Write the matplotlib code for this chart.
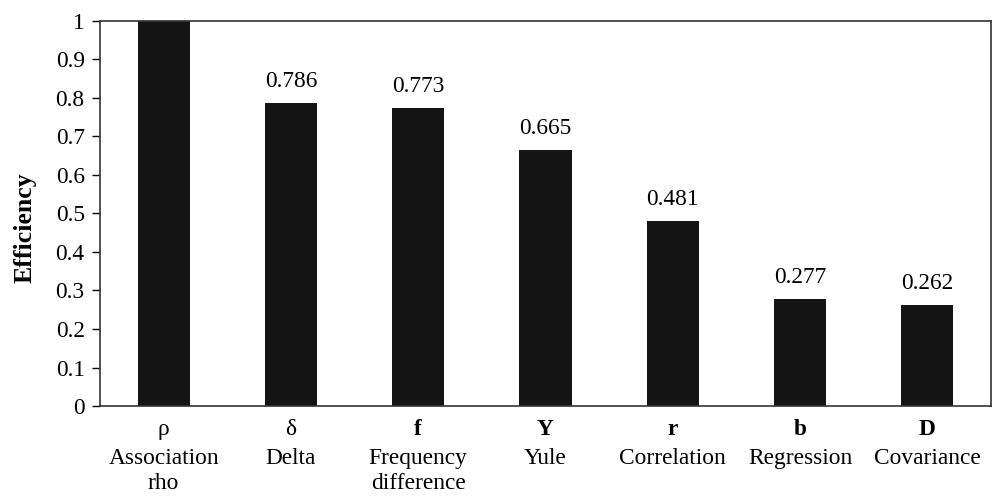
import matplotlib
matplotlib.use('Agg')
import matplotlib.pyplot as plt
import matplotlib.transforms as mtransforms

symbols = ['ρ', 'δ', 'f', 'Y', 'r', 'b', 'D']
symbol_bold = [False, False, True, True, True, True, True]
names_line1 = ['Association', 'Delta', 'Frequency', 'Yule',
               'Correlation', 'Regression', 'Covariance']
names_line2 = ['rho', '', 'difference', '', '', '', '']
efficiency = [1.0, 0.786, 0.773, 0.665, 0.481, 0.277, 0.262]
value_labels = ['', '0.786', '0.773', '0.665', '0.481', '0.277', '0.262']
yticks = [0, 0.1, 0.2, 0.3, 0.4, 0.5, 0.6, 0.7, 0.8, 0.9, 1]
ytick_labels = ['0', '0.1', '0.2', '0.3', '0.4', '0.5', '0.6', '0.7', '0.8', '0.9', '1']

FS = 16.8
plt.rcParams['font.family'] = ['Liberation Serif', 'DejaVu Serif']
plt.rcParams['font.size'] = FS


def main():
    fig = plt.figure(figsize=(9.93, 4.98), dpi=100)
    ax = fig.add_axes([0.1007, 0.1847, 0.8973, 0.7733])

    x = list(range(len(efficiency)))
    ax.bar(x, efficiency, width=0.41, color='#141414')

    for xi, v, lab in zip(x, efficiency, value_labels):
        if lab:
            ax.annotate(lab, (xi, v), xytext=(0, 8), textcoords='offset points',
                        ha='center', va='bottom', fontsize=FS)

    ax.set_xlim(-0.5, len(efficiency) - 0.5)
    ax.set_ylim(0, 1)
    ax.set_yticks(yticks)
    ax.set_yticklabels(ytick_labels)
    ax.tick_params(axis='y', length=6, width=1, direction='out', pad=5)
    ax.set_xticks([])

    # symbol row and two name rows below the axis
    trans = mtransforms.blended_transform_factory(ax.transData, ax.transAxes)
    for xi, s, bold, n1, n2 in zip(x, symbols, symbol_bold, names_line1, names_line2):
        ax.text(xi, -0.0765, s, transform=trans, ha='center', va='baseline',
                fontsize=FS, fontweight='bold' if bold else 'normal')
        ax.text(xi, -0.1506, n1, transform=trans, ha='center', va='baseline',
                fontsize=FS)
        if n2:
            ax.text(xi, -0.2156, n2, transform=trans, ha='center', va='baseline',
                    fontsize=FS)

    ax.set_ylabel('Efficiency', fontweight='bold', fontsize=18.5)
    ax.yaxis.set_label_coords(-0.071, 0.462)

    for sp in ax.spines.values():
        sp.set_color('#333333')
        sp.set_linewidth(1.2)

    fig.savefig('out.png', dpi=100)


if __name__ == '__main__':
    main()
